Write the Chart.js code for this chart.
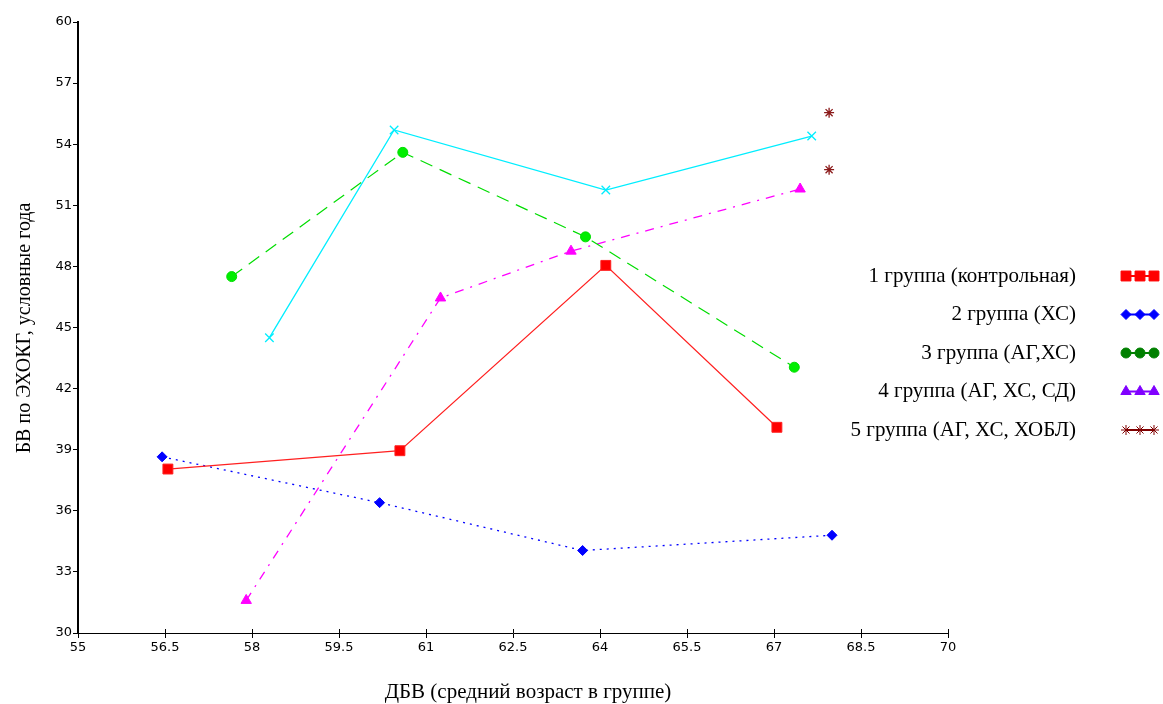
<!DOCTYPE html>
<html>
<head>
<meta charset="utf-8">
<script src="https://cdn.jsdelivr.net/npm/chart.js@4/dist/chart.umd.min.js"></script>
<style>
  html, body { margin: 0; padding: 0; background: #fff; }
  #wrap { width: 1163px; height: 704px; position: relative; }
</style>
</head>
<body>
<div id="wrap"><canvas id="bvChart"></canvas></div>
<script>
// values
const groupLabels = [
    '1 группа (контрольная)',
    '2 группа (ХС)',
    '3 группа (АГ,ХС)',
    '4 группа (АГ, ХС, СД)',
    '5 группа (АГ, ХС, ХОБЛ)'
];

const group1X = [56.55, 60.55, 64.1, 67.05];
const group1Y = [38.05, 38.95, 48.05, 40.1];
const group2X = [56.45, 60.2, 63.7, 68.0];
const group2Y = [38.65, 36.4, 34.05, 34.8];
const group3X = [57.65, 60.6, 63.75, 67.35];
const group3Y = [47.5, 53.6, 49.45, 43.05];
const group4X = [57.9, 61.25, 63.5, 67.45];
const group4Y = [31.6, 46.45, 48.75, 51.8];
const group5X = [67.95, 67.95];
const group5Y = [55.55, 52.75];
const extraX = [58.3, 60.45, 64.1, 67.65];
const extraY = [44.5, 54.7, 51.75, 54.4];

const xTitle = 'ДБВ (средний возраст в группе)';
const yTitle = 'БВ по ЭХОКГ, условные года';

const legendColors = ['#ff0000', '#0000ff', '#008000', '#8000ff', '#800000'];
const legendStyles = ['rect', 'rectRot', 'circle', 'triangle', 'star'];
const legendRadius = [7, 5, 5, 6, 5];

function pts(xs, ys) {
    return xs.map((x, i) => ({ x: x, y: ys[i] }));
}

const sideLegend = {
    id: 'sideLegend',
    afterDraw(chart) {
        const ctx = chart.ctx;
        ctx.save();

        // small tick marks above the x axis, like the original
        const xs = chart.scales.x;
        ctx.strokeStyle = '#000';
        ctx.lineWidth = 1;
        xs.ticks.forEach(t => {
            const px = Math.round(xs.getPixelForValue(t.value)) + 0.5;
            ctx.beginPath();
            ctx.moveTo(px, xs.top - 4);
            ctx.lineTo(px, xs.top);
            ctx.stroke();
        });

        ctx.font = '21px "Liberation Serif", serif';
        ctx.textAlign = 'right';
        ctx.textBaseline = 'middle';
        groupLabels.forEach((t, i) => {
            const y = 276 + i * 38.5;
            ctx.fillStyle = '#000';
            ctx.fillText(t, 1076, y);
            ctx.strokeStyle = legendColors[i];
            ctx.fillStyle = legendColors[i];
            ctx.lineWidth = 2;
            ctx.setLineDash([]);
            ctx.beginPath();
            ctx.moveTo(1126, y);
            ctx.lineTo(1154, y);
            ctx.stroke();
            ctx.lineWidth = 1;
            [1126, 1140, 1154].forEach(px => {
                Chart.helpers.drawPoint(ctx, {
                    pointStyle: legendStyles[i],
                    radius: legendRadius[i],
                    rotation: 0,
                    borderWidth: 1
                }, px, y);
            });
        });

        // axis titles
        ctx.fillStyle = '#000';
        ctx.textAlign = 'center';
        ctx.textBaseline = 'middle';
        ctx.fillText(xTitle, 528, 692);
        ctx.font = '20px "Liberation Serif", serif';
        ctx.translate(25, 328);
        ctx.rotate(-Math.PI / 2);
        ctx.fillText(yTitle, 0, 0);
        ctx.restore();
    }
};

const ctx = document.getElementById('bvChart');
new Chart(ctx, {
    type: 'scatter',
    data: {
        datasets: [
            {
                label: groupLabels[0],
                data: pts(group1X, group1Y),
                showLine: true,
                borderColor: '#ff2020',
                backgroundColor: '#ff0000',
                borderWidth: 1.2,
                pointStyle: 'rect',
                pointRadius: 7,
                pointBorderWidth: 1
            },
            {
                label: groupLabels[1],
                data: pts(group2X, group2Y),
                showLine: true,
                borderColor: '#0000ff',
                backgroundColor: '#0000ff',
                borderWidth: 1.3,
                borderDash: [2, 5],
                pointStyle: 'rectRot',
                pointRadius: 5,
                pointBorderWidth: 1
            },
            {
                label: groupLabels[2],
                data: pts(group3X, group3Y),
                showLine: true,
                borderColor: '#00dd00',
                backgroundColor: '#00ee00',
                borderWidth: 1.2,
                borderDash: [13, 8],
                pointStyle: 'circle',
                pointRadius: 5,
                pointBorderWidth: 1
            },
            {
                label: groupLabels[3],
                data: pts(group4X, group4Y),
                showLine: true,
                borderColor: '#ff00ff',
                backgroundColor: '#ff00ff',
                borderWidth: 1.3,
                borderDash: [9, 7, 2, 7],
                pointStyle: 'triangle',
                pointRadius: 6,
                pointBorderWidth: 1
            },
            {
                label: groupLabels[4],
                data: pts(group5X, group5Y),
                showLine: false,
                borderColor: '#8b1a1a',
                backgroundColor: '#8b1a1a',
                pointStyle: 'star',
                pointRadius: 5,
                pointBorderWidth: 1.3
            },
            {
                label: '',
                data: pts(extraX, extraY),
                showLine: true,
                borderColor: '#00eeff',
                backgroundColor: '#00eeff',
                borderWidth: 1.3,
                pointStyle: 'crossRot',
                pointRadius: 6,
                pointBorderWidth: 1.3
            }
        ]
    },
    options: {
        responsive: true,
        maintainAspectRatio: false,
        animation: false,
        layout: { padding: { left: 0, right: 215, top: 22, bottom: 0 } },
        plugins: {
            legend: { display: false },
            tooltip: { enabled: false }
        },
        scales: {
            x: {
                type: 'linear',
                min: 55,
                max: 70,
                afterFit(scale) { scale.height = 71; },
                border: { color: '#000', width: 1 },
                grid: { drawOnChartArea: false, color: '#000', tickLength: 5 },
                ticks: {
                    stepSize: 1.5,
                    color: '#000',
                    padding: 2,
                    maxRotation: 0,
                    font: { family: '"DejaVu Sans", sans-serif', size: 13 }
                }
            },
            y: {
                type: 'linear',
                min: 30,
                max: 60,
                afterFit(scale) { scale.width = 78; },
                border: { color: '#000', width: 2 },
                grid: { drawOnChartArea: false, color: '#000', tickLength: 5 },
                ticks: {
                    stepSize: 3,
                    color: '#000',
                    padding: 1,
                    font: { family: '"DejaVu Sans", sans-serif', size: 13 }
                }
            }
        }
    },
    plugins: [sideLegend]
});
</script>
</body>
</html>
